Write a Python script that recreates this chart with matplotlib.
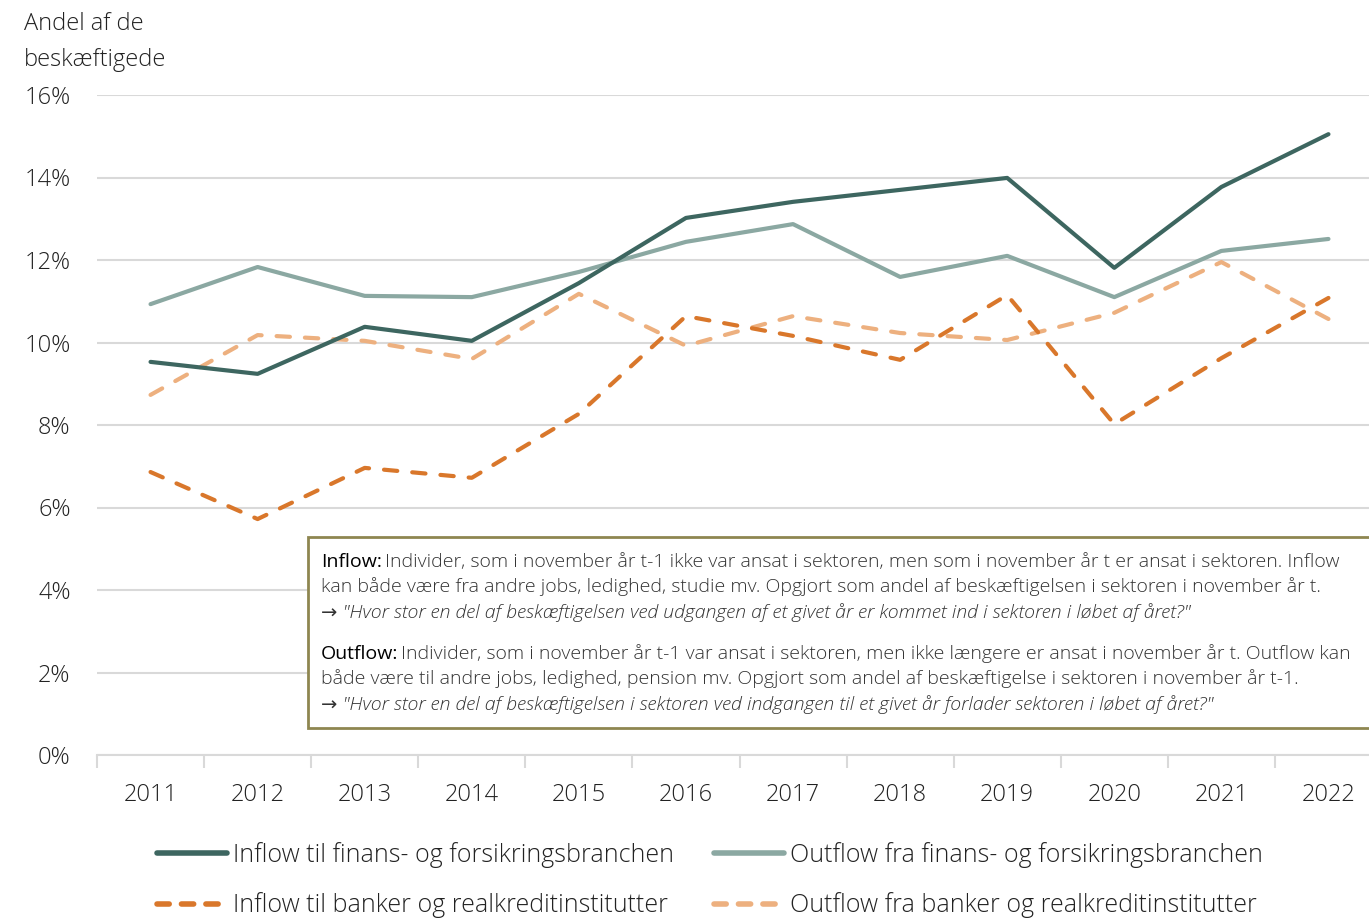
import numpy as np
import matplotlib.pyplot as plt
from matplotlib.patches import Rectangle
from matplotlib.lines import Line2D

plt.rcParams['font.family'] = ['Open Sans', 'DejaVu Sans']

years = [2011, 2012, 2013, 2014, 2015, 2016, 2017, 2018, 2019, 2020, 2021, 2022]
inflow_finans = [9.53, 9.24, 10.38, 10.04, 11.44, 13.02, 13.41, 13.70, 13.99, 11.81, 13.77, 15.05]
outflow_finans = [10.93, 11.83, 11.13, 11.10, 11.71, 12.44, 12.87, 11.59, 12.10, 11.10, 12.22, 12.51]
inflow_banker = [6.86, 5.72, 6.96, 6.72, 8.27, 10.64, 10.16, 9.58, 11.15, 8.02, 9.62, 11.08]
outflow_banker = [8.73, 10.18, 10.04, 9.60, 11.18, 9.92, 10.64, 10.23, 10.06, 10.72, 11.95, 10.57]
yticks = [0, 2, 4, 6, 8, 10, 12, 14, 16]

labels = ["Inflow til finans- og forsikringsbranchen",
          "Outflow fra finans- og forsikringsbranchen",
          "Inflow til banker og realkreditinstitutter",
          "Outflow fra banker og realkreditinstitutter"]
colors = ["#3D6660", "#8BA8A2", "#D9772B", "#EDB07F"]

W, H = 1369, 918
fig = plt.figure(figsize=(W / 100, H / 100), dpi=100)
ax = fig.add_axes([97 / W, 1 - 755 / H, 1285 / W, 660 / H])

x = np.arange(len(years))
lw = 3.0
ax.plot(x, outflow_banker, color=colors[3], lw=lw, dashes=(3.2, 3.6),
        dash_capstyle='round', solid_joinstyle='round', zorder=3)
ax.plot(x, inflow_banker, color=colors[2], lw=lw, dashes=(3.2, 3.6),
        dash_capstyle='round', solid_joinstyle='round', zorder=3)
ax.plot(x, outflow_finans, color=colors[1], lw=lw, solid_capstyle='round',
        solid_joinstyle='round', zorder=4)
ax.plot(x, inflow_finans, color=colors[0], lw=lw, solid_capstyle='round',
        solid_joinstyle='round', zorder=5)

ax.set_xlim(-0.5, len(years) - 0.5)
ax.set_ylim(0, 16)
ax.set_yticks(yticks)
ax.set_yticklabels([f"{v}%" for v in yticks])
ax.set_xticks(x)
ax.set_xticklabels([str(y) for y in years])
ax.set_xticks(np.arange(len(years) + 1) - 0.5, minor=True)
ax.tick_params(axis='x', which='major', length=0, pad=20, labelsize=17, colors='#222222')
ax.tick_params(axis='x', which='minor', length=9, width=1.5, color='#d9d9d9')
ax.tick_params(axis='y', length=0, pad=19, labelsize=17, colors='#222222')
ax.grid(axis='y', color='#d9d9d9', lw=1.5)
ax.set_axisbelow(True)
for s in ['top', 'right', 'left']:
    ax.spines[s].set_visible(False)
ax.spines['bottom'].set_color('#d9d9d9')
ax.spines['bottom'].set_linewidth(1.5)
for t in ax.get_xticklabels() + ax.get_yticklabels():
    t.set_fontweight('light')

fig.text(24 / W, 1 - 24 / H, "Andel af de", fontsize=17, fontweight='light',
         va='center', ha='left', color='#222222')
fig.text(24 / W, 1 - 60 / H, "beskæftigede", fontsize=17, fontweight='light',
         va='center', ha='left', color='#222222')

# annotation box
box = Rectangle((308 / W, 1 - 728 / H), 1100 / W, 191 / H, transform=fig.transFigure,
                facecolor='white', edgecolor='#8E8650', lw=2, zorder=10)
fig.patches.append(box)

def para(y0, head, lines):
    tx = 321 / W
    t = fig.text(tx, 1 - y0 / H, head, fontsize=14, va='center', ha='left',
                 color='black', zorder=11)
    fig.canvas.draw()
    bb = t.get_window_extent()
    fig.text(bb.x1 / W + 0.002, 1 - y0 / H, lines[0], fontsize=14, fontweight='light',
             va='center', ha='left', color='#333333', zorder=11)
    fig.text(tx, 1 - (y0 + 25) / H, lines[1], fontsize=14, fontweight='light',
             va='center', ha='left', color='#333333', zorder=11)
    fig.text(tx, 1 - (y0 + 51) / H, "\u2192 " + lines[2], fontsize=14, fontweight='light',
             style='italic', va='center', ha='left', color='#333333', zorder=11)

para(562, "Inflow:", [
    "Individer, som i november år t-1 ikke var ansat i sektoren, men som i november år t er ansat i sektoren. Inflow",
    "kan både være fra andre jobs, ledighed, studie mv. Opgjort som andel af beskæftigelsen i sektoren i november år t.",
    "\"Hvor stor en del af beskæftigelsen ved udgangen af et givet år er kommet ind i sektoren i løbet af året?\""])
para(654, "Outflow:", [
    "Individer, som i november år t-1 var ansat i sektoren, men ikke længere er ansat i november år t. Outflow kan",
    "både være til andre jobs, ledighed, pension mv. Opgjort som andel af beskæftigelse i sektoren i november år t-1.",
    "\"Hvor stor en del af beskæftigelsen i sektoren ved indgangen til et givet år forlader sektoren i løbet af året?\""])

handles = [
    Line2D([], [], color=colors[0], lw=4, solid_capstyle='round'),
    Line2D([], [], color=colors[1], lw=4, solid_capstyle='round'),
    Line2D([], [], color=colors[2], lw=4, dashes=(2.2, 2.2), dash_capstyle='round'),
    Line2D([], [], color=colors[3], lw=4, dashes=(2.2, 2.2), dash_capstyle='round'),
]
order = [0, 2, 1, 3]
leg = fig.legend([handles[i] for i in order], [labels[i] for i in order], ncol=2,
                 loc='upper left', bbox_to_anchor=(157 / W, 1 - 842 / H), frameon=False,
                 fontsize=18, handlelength=2.8, handletextpad=0.25, columnspacing=1.6,
                 labelspacing=0.98, borderaxespad=0, borderpad=0)
for t in leg.get_texts():
    t.set_fontweight('light')
    t.set_color('#222222')

fig.savefig("out.png", dpi=100)
